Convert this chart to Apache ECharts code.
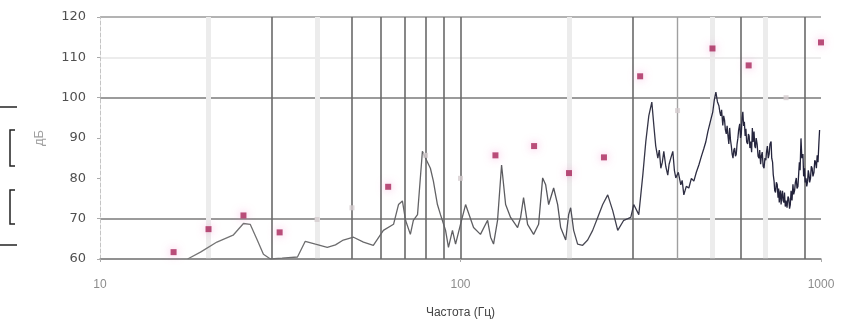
<!DOCTYPE html>
<html>
<head>
<meta charset="utf-8">
<script src="https://cdn.jsdelivr.net/npm/echarts@6/dist/echarts.min.js"></script>
<style>
  html, body { margin: 0; padding: 0; background: #fff; }
  #chart { width: 843px; height: 324px; }
</style>
</head>
<body>
<div id="chart"></div>
<script>
// спектр (линия), частота в Гц и уровень в дБ
var lineFreqs = [17.5, 19.0, 21.1, 23.4, 25.0, 26.1, 27.3, 28.4, 29.7, 32, 35.3, 37.1, 39.6, 42.7, 45, 47.3, 50.5,
  53.8, 57.3, 61.1, 65.2, 67.3, 69.0, 70.4, 72.6, 74.0, 76.0, 78.4, 80.0, 82.5, 84.1, 86.3, 88.0, 90.9, 92.6,
  95.0, 96.9, 100, 103.3, 108.7, 113.6, 118.9, 121.2, 123.5, 126.7, 130.0, 133.4, 137.7, 144.0, 146.8, 149.6,
  153.5, 159.5, 164.7, 169.0, 172.3, 175.6, 181.3, 186.0, 189.6, 195.8, 199.5, 202.1, 206.0, 211.3, 218.2,
  225.3, 232.6, 240.2, 248.0, 256.1, 264.4, 273.0, 283.7, 296.7, 302.4, 312.3, 320.4, 326.6, 332.9, 339.4,
  343.8, 348, 352.7, 356, 359.5, 363, 366.4, 371, 375.8, 379, 383.1, 388.1, 392, 395.6, 402, 408.4, 412, 416.4,
  423, 429.9, 437, 443.9, 451, 458.3, 466, 473.2, 479, 485.5, 493,
  501, 506, 511, 516, 521, 524, 527, 530, 534, 537, 540, 543, 546, 549, 552, 555, 558, 561, 564, 567, 570,
  573, 576, 579, 582, 585, 588, 591, 595, 598, 601, 604, 607, 610, 613, 616, 619, 622, 626, 629, 632, 635,
  639, 642, 645, 648, 652, 655, 658, 661, 665, 669, 673, 676, 680, 683, 687, 691, 695, 699, 703, 706, 710,
  714, 718, 722, 727, 730, 734, 737, 741, 744, 748, 752, 756, 760, 763, 766, 769, 772, 775, 778, 782, 785,
  789, 792, 796, 800, 805, 810, 814, 818, 822, 826, 831, 836, 840, 845, 849, 854, 858, 863, 867, 871, 875,
  880, 885, 891, 895, 900, 904, 909, 913, 918, 922, 926, 930, 935, 940, 945, 950, 956, 961, 966, 971, 976,
  981, 987, 991, 995, 1000];
var lineLevels = [60.0, 61.7, 64.2, 65.9, 68.8, 68.6, 64.7, 61.2, 60.0, 60.2, 60.5, 64.4, 63.7, 62.9, 63.5, 64.7, 65.4,
  64.2, 63.4, 67.1, 68.6, 73.5, 74.4, 69.6, 66.1, 69.6, 71.0, 86.7, 85.0, 82.5, 79.3, 73.5, 71.0, 67.1, 62.9,
  67.1, 63.7, 68.6, 73.5, 67.8, 66.1, 69.6, 65.4, 63.7, 69.6, 83.3, 73.5, 70.3, 67.8, 70.3, 75.2,
  68.6, 66.1, 68.6, 80.1, 78.4, 73.5, 77.6, 73.5, 67.8, 64.7, 71.0, 72.7, 67.1, 63.7, 63.4,
  64.7, 67.1, 70.3, 73.5, 75.9, 72.0, 67.1, 69.6, 70.3, 73.5, 71.0, 80.8, 89.1, 95.5, 98.9,
  93.1, 88.0, 85.0, 87.0, 82.5, 84.0, 86.7, 83.0, 80.8, 83.5, 85.0, 86.7, 82.0, 80.1, 81.5, 78.4, 79.5, 75.9,
  78.0, 77.6, 80.0, 79.3, 81.5, 83.3, 85.5, 87.4, 89.0, 91.6, 94.0,
  96.5, 99.5, 101.4, 99.0, 98.0, 96.5, 95.5, 97.0, 93.1, 95.5, 94.5, 92.0, 91.0, 93.0, 90.6, 88.5, 92.5, 89.5, 88.0, 86.0, 85.0,
  87.0, 87.5, 85.5, 86.0, 88.5, 89.9, 92.0, 93.5, 90.0, 91.0, 95.0, 96.5, 93.0, 94.0, 90.5, 92.3, 89.0, 88.5, 91.0, 90.5, 87.5,
  89.1, 86.5, 92.5, 89.0, 91.6, 88.0, 87.5, 90.0, 88.5, 85.5, 85.0, 87.0, 83.5, 85.5, 86.5, 83.0, 82.5, 85.0, 84.5, 86.5, 88.0,
  85.0, 86.0, 88.5, 89.1, 85.0, 84.0, 81.0, 79.3, 77.0, 76.5, 79.0, 78.5, 75.2, 77.5, 74.0, 76.0, 77.0, 73.5, 75.5, 76.9,
  74.5, 74.0, 76.5, 73.0, 74.5, 72.7, 75.5, 75.0, 72.5, 73.5, 76.9, 74.5, 78.5, 76.0, 77.0, 79.0, 80.1, 77.5, 78.0, 81.0,
  84.0, 82.0, 89.9, 85.0, 86.0, 80.5, 82.5, 79.0, 80.0, 78.0, 79.3, 82.0, 81.0, 79.0, 80.0, 83.0, 82.5, 80.5, 81.5, 84.5, 84.0,
  82.5, 85.7, 84.0, 89.0, 92.0];

// точки по третьоктавным полосам
var pinkFreqs = [16, 20, 25, 31.5, 63, 125, 160, 200, 250, 315, 500, 630, 1000];
var pinkLevels = [61.7, 67.4, 70.8, 66.6, 77.9, 85.7, 88.0, 81.3, 85.2, 105.3, 112.2, 108.0, 113.7];
// бледные точки
var faintFreqs = [40, 50, 80, 100, 400, 800];
var faintLevels = [69.8, 72.7, 85.7, 80.0, 96.8, 100.0];

// вертикальные линии сетки
var darkGridFreqs = [30, 50, 60, 70, 80, 90, 100, 300, 600, 900];
var midGridFreqs = [400];
var lightGridFreqs = [20, 40, 200, 500, 700];

function pairs(xs, ys) {
  return xs.map(function (x, i) { return [x, ys[i]]; });
}
function vLines(xs) {
  return xs.map(function (x) { return { xAxis: x }; });
}
function gridSeries(name, xs, lineStyle, z) {
  return {
    name: name,
    type: 'line',
    data: [],
    silent: true,
    z: z,
    markLine: {
      silent: true,
      z: z,
      symbol: 'none',
      label: { show: false },
      lineStyle: lineStyle,
      data: vLines(xs)
    }
  };
}

var chart = echarts.init(document.getElementById('chart'));

var option = {
  animation: false,
  backgroundColor: '#fff',
  textStyle: { fontFamily: 'Liberation Sans, Arial, sans-serif' },
  grid: { left: 100, right: 22, top: 17, bottom: 62 },
  xAxis: {
    type: 'log',
    logBase: 10,
    min: 10,
    max: 1000,
    name: 'Частота (Гц)',
    nameLocation: 'middle',
    nameGap: 48,
    nameTextStyle: { color: '#444', fontSize: 12 },
    axisLine: { lineStyle: { color: '#8a8a8a', width: 1.5 } },
    axisTick: { show: true, length: 3, lineStyle: { color: '#aaa' } },
    axisLabel: {
      color: '#8c8c8c',
      fontSize: 12,
      margin: 20,
      formatter: function (v) { return String(v); }
    },
    splitLine: { show: false }
  },
  yAxis: {
    type: 'value',
    min: 60,
    max: 120,
    interval: 10,
    name: 'дБ',
    nameLocation: 'middle',
    nameRotate: 90,
    nameGap: 54,
    nameTextStyle: { color: '#a0a0a0', fontSize: 13 },
    axisLine: { show: true, lineStyle: { color: '#c4c4c4', type: 'dashed', width: 1 } },
    axisTick: { show: true, length: 3, lineStyle: { color: '#aaa' } },
    axisLabel: { color: '#505050', fontSize: 13, margin: 14, fontFamily: 'DejaVu Sans' },
    splitLine: {
      show: true,
      lineStyle: {
        // 60, 70, 80, 90, 100, 110, 120
        color: ['#8a8a8a', '#7a7a7a', 'rgba(0,0,0,0)', 'rgba(0,0,0,0)', '#7a7a7a', '#e6e6e6', '#9a9a9a'],
        width: 1.5
      }
    }
  },
  series: [
    gridSeries('сетка светлая', lightGridFreqs, { color: '#ececec', width: 5, type: 'solid' }, 0),
    gridSeries('сетка', darkGridFreqs, { color: '#6a6a6a', width: 1.6, type: 'solid' }, 1),
    gridSeries('сетка средняя', midGridFreqs, { color: '#a0a0a0', width: 1.4, type: 'solid' }, 1),
    {
      name: 'спектр',
      type: 'line',
      data: pairs(lineFreqs, lineLevels),
      showSymbol: false,
      lineStyle: {
        width: 1.3,
        color: new echarts.graphic.LinearGradient(0, 0, 1, 0, [
          { offset: 0, color: '#777777' },
          { offset: 0.55, color: '#5a5a5e' },
          { offset: 0.75, color: '#303044' },
          { offset: 1, color: '#20203a' }
        ])
      },
      z: 3
    },
    {
      name: 'бледные',
      type: 'scatter',
      data: pairs(faintFreqs, faintLevels),
      symbol: 'rect',
      symbolSize: 5,
      itemStyle: { color: '#d6cdd0' },
      z: 4
    },
    {
      name: 'уровни',
      type: 'scatter',
      data: pairs(pinkFreqs, pinkLevels),
      symbol: 'rect',
      symbolSize: 6,
      itemStyle: {
        color: '#a8255a',
        shadowBlur: 8,
        shadowColor: 'rgba(240, 110, 190, 0.7)'
      },
      z: 5
    }
  ],
  // обрезки рамки слева от графика
  graphic: [
    { type: 'line', shape: { x1: 0, y1: 107, x2: 17, y2: 107 }, style: { stroke: '#222', lineWidth: 1.5 } },
    { type: 'polyline', shape: { points: [[15, 130], [10, 130], [10, 166], [15, 166]] }, style: { stroke: '#222', lineWidth: 1.5, fill: null } },
    { type: 'polyline', shape: { points: [[15, 190], [10, 190], [10, 224], [15, 224]] }, style: { stroke: '#222', lineWidth: 1.5, fill: null } },
    { type: 'line', shape: { x1: 0, y1: 245, x2: 17, y2: 245 }, style: { stroke: '#222', lineWidth: 1.5 } }
  ]
};

chart.setOption(option);
</script>
</body>
</html>
